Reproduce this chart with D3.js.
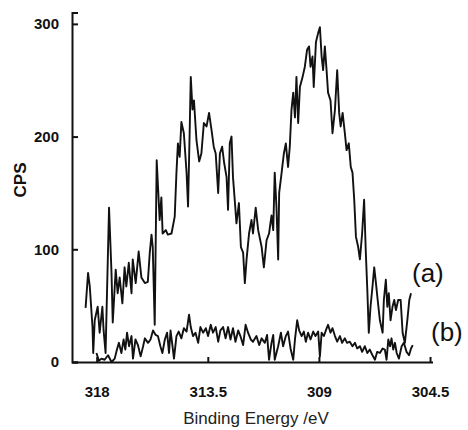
<!DOCTYPE html>
<html>
<head>
<meta charset="utf-8">
<script src="https://cdn.jsdelivr.net/npm/d3@7"></script>
<style>
  html, body { margin: 0; padding: 0; background: #fff; }
  svg { display: block; }
  text { font-family: "Liberation Sans", Arial, sans-serif; fill: #111; }
</style>
</head>
<body>
<svg id="chart" width="468" height="430"></svg>
<script>
// ---- data ----
const xTickValues = [318, 313.5, 309, 304.5];
const xTickLabels = ["318", "313.5", "309", "304.5"];
const yTickValues = [0, 100, 200, 300];
const yTickLabels = ["0", "100", "200", "300"];
const xLabel = "Binding Energy /eV";
const yLabel = "CPS";
const seriesNames = ["(a)", "(b)"];

const energyA = [318.45,318.35,318.28,318.17,318.14,318.08,317.96,317.88,317.77,317.72,317.64,317.50,317.40,317.35,317.23,317.15,317.07,316.96,316.87,316.80,316.70,316.59,316.54,316.42,316.30,316.19,316.05,315.93,315.85,315.78,315.73,315.65,315.57,315.45,315.38,315.33,315.20,315.12,314.97,314.84,314.77,314.71,314.64,314.57,314.47,314.36,314.30,314.23,314.19,314.12,314.06,313.96,313.85,313.76,313.66,313.55,313.45,313.35,313.26,313.18,313.08,313.01,312.92,312.84,312.74,312.68,312.61,312.54,312.48,312.41,312.34,312.24,312.16,312.07,312.00,311.93,311.83,311.73,311.67,311.56,311.46,311.32,311.23,311.12,311.02,310.92,310.85,310.79,310.72,310.65,310.61,310.51,310.42,310.34,310.25,310.18,310.11,310.04,309.97,309.91,309.84,309.77,309.66,309.57,309.48,309.40,309.34,309.26,309.21,309.12,309.03,308.96,308.89,308.83,308.76,308.69,308.63,308.53,308.45,308.35,308.26,308.18,308.12,308.04,307.95,307.88,307.79,307.71,307.64,307.57,307.50,307.41,307.34,307.25,307.17,307.10,307.04,306.98,306.91,306.83,306.76,306.69,306.62,306.53,306.42,306.37,306.29,306.23,306.17,306.10,306.02,305.95,305.88,305.79,305.69,305.61,305.52,305.42,305.34,305.27];
const cpsA = [48,79,67,31,8,37,49,26,49,28,8,137,79,35,82,61,75,52,84,67,88,61,91,70,98,75,70,71,97,113,102,33,179,126,146,114,117,113,114,129,168,194,182,213,203,168,138,209,253,224,232,197,178,185,212,209,221,206,191,185,150,185,191,177,164,135,194,200,164,144,123,141,102,97,70,91,114,126,114,137,117,102,84,108,114,130,117,168,138,91,150,168,185,194,173,191,224,239,217,253,212,244,253,262,277,280,262,271,244,284,292,297,271,259,280,259,239,232,203,224,259,221,209,221,203,188,194,173,168,144,111,102,91,114,144,97,64,26,49,67,84,70,55,37,26,55,73,49,61,37,49,55,46,55,55,26,17,37,55,61];

const energyB = [318.01,317.91,317.81,317.68,317.54,317.40,317.27,317.18,317.10,317.00,316.91,316.84,316.77,316.69,316.59,316.53,316.43,316.33,316.22,316.12,316.05,315.92,315.82,315.72,315.61,315.52,315.42,315.34,315.24,315.15,315.07,315.01,314.93,314.87,314.77,314.68,314.57,314.47,314.36,314.26,314.19,314.10,314.00,313.89,313.80,313.69,313.58,313.49,313.38,313.29,313.18,313.08,312.99,312.88,312.78,312.68,312.58,312.48,312.38,312.27,312.18,312.07,311.97,311.87,311.76,311.67,311.53,311.42,311.32,311.19,311.10,311.02,310.92,310.85,310.79,310.65,310.54,310.45,310.34,310.25,310.15,310.04,309.97,309.88,309.80,309.70,309.61,309.53,309.44,309.34,309.23,309.14,309.03,308.96,308.89,308.80,308.72,308.63,308.53,308.45,308.35,308.26,308.15,308.06,307.95,307.86,307.75,307.64,307.54,307.45,307.34,307.25,307.14,307.04,306.94,306.83,306.73,306.64,306.53,306.42,306.33,306.26,306.19,306.12,306.06,305.99,305.92,305.85,305.76,305.65,305.56,305.45,305.35,305.27,305.20];
const cpsB = [8,1,3,2,6,0,3,11,17,8,20,11,26,14,23,3,20,15,5,14,21,17,20,28,24,23,14,8,20,26,8,28,14,3,23,27,21,30,27,42,31,23,26,17,31,26,30,23,33,26,31,18,28,31,21,31,20,30,18,28,23,15,33,26,20,18,23,15,21,17,24,2,17,24,2,14,26,14,23,27,12,2,20,37,28,23,27,18,26,20,27,23,27,5,26,23,28,33,26,30,23,18,23,17,21,17,18,14,17,12,14,9,14,8,11,6,2,9,8,12,11,2,20,14,21,11,17,8,3,14,17,9,6,12,15];

// ---- layout ----
const svg = d3.select("#chart");
const x = d3.scaleLinear().domain([319, 304.4]).range([72, 432.5]);
const y = d3.scaleLinear().domain([0, 310]).range([362, 12.6]);

const fmtX = d => xTickLabels[xTickValues.indexOf(d)];
const fmtY = d => yTickLabels[yTickValues.indexOf(d)];

// x axis (ticks point up, labels below)
const gx = svg.append("g").attr("transform", "translate(0,362)")
  .call(d3.axisBottom(x).tickValues(xTickValues).tickFormat(fmtX)
    .tickSize(-5).tickSizeOuter(0).tickPadding(24));
// y axis (ticks point right, labels left)
const gy = svg.append("g").attr("transform", "translate(72,0)")
  .call(d3.axisLeft(y).tickValues(yTickValues).tickFormat(fmtY)
    .tickSize(-6).tickSizeOuter(-6).tickPadding(13));

[gx, gy].forEach(g => {
  g.selectAll("path, line").attr("stroke", "#111").attr("stroke-width", 2);
  g.selectAll("text").style("font-family", '"Liberation Sans", Arial, sans-serif')
    .style("font-size", "15px").style("font-weight", "bold").attr("fill", "#111");
});

// lines
const line = d3.line().x(d => x(d[0])).y(d => y(d[1]));
const dataA = energyA.map((e, i) => [e, cpsA[i]]);
const dataB = energyB.map((e, i) => [e, cpsB[i]]);
svg.append("path").datum(dataB).attr("d", line)
  .attr("fill", "none").attr("stroke", "#111").attr("stroke-width", 1.9).attr("stroke-linejoin", "round");
svg.append("path").datum(dataA).attr("d", line)
  .attr("fill", "none").attr("stroke", "#111").attr("stroke-width", 1.9).attr("stroke-linejoin", "round");

// series labels
svg.append("text").attr("x", 412).attr("y", 282).style("font-size", "26px").text(seriesNames[0]);
svg.append("text").attr("x", 431).attr("y", 341).style("font-size", "26px").text(seriesNames[1]);

// axis titles
svg.append("text").attr("x", 256).attr("y", 424).attr("text-anchor", "middle")
  .style("font-size", "17px").attr("fill", "#222").style("fill", "#222").text(xLabel);
svg.append("text").attr("transform", "translate(26,180) rotate(-90)").attr("text-anchor", "middle")
  .style("font-size", "17px").style("font-weight", "bold").text(yLabel);
</script>
</body>
</html>
